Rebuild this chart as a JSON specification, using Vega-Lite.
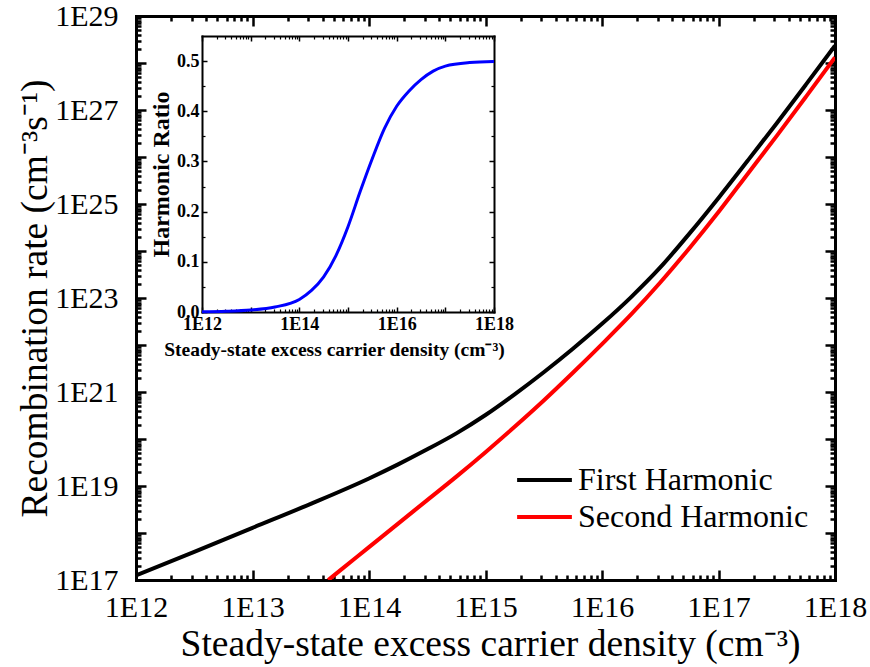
{
  "$schema": "https://vega.github.io/schema/vega-lite/v6.json",
  "width": 699,
  "height": 564,
  "autosize": {"type": "none"},
  "padding": {"left": 136, "top": 16, "right": 35, "bottom": 87},
  "background": "white",
  "config": {
    "view": {"stroke": null},
    "axis": {
      "grid": false,
      "labelFont": "Liberation Serif",
      "titleFont": "Liberation Serif",
      "labelColor": "black",
      "titleColor": "black",
      "domainColor": "black",
      "tickColor": "black",
      "labelFlush": false,
      "labelOverlap": false,
      "titleLimit": 1000,
      "labelLimit": 300,
      "domainCap": "square"
    }
  },
  "datasets": {
    "main": [
      {"series": "First Harmonic", "n": 1e12, "rate": 1.259e17},
      {"series": "First Harmonic", "n": 3.162e12, "rate": 3.981e17},
      {"series": "First Harmonic", "n": 1e13, "rate": 1.288e18},
      {"series": "First Harmonic", "n": 3.162e13, "rate": 4.169e18},
      {"series": "First Harmonic", "n": 1e14, "rate": 1.445e19},
      {"series": "First Harmonic", "n": 1.778e14, "rate": 2.884e19},
      {"series": "First Harmonic", "n": 3.162e14, "rate": 6.026e19},
      {"series": "First Harmonic", "n": 5.623e14, "rate": 1.318e20},
      {"series": "First Harmonic", "n": 1e15, "rate": 3.236e20},
      {"series": "First Harmonic", "n": 1.778e15, "rate": 8.913e20},
      {"series": "First Harmonic", "n": 3.162e15, "rate": 2.63e21},
      {"series": "First Harmonic", "n": 5.623e15, "rate": 8.318e21},
      {"series": "First Harmonic", "n": 1e16, "rate": 2.818e22},
      {"series": "First Harmonic", "n": 1.778e16, "rate": 1.047e23},
      {"series": "First Harmonic", "n": 3.162e16, "rate": 4.467e23},
      {"series": "First Harmonic", "n": 5.623e16, "rate": 2.344e24},
      {"series": "First Harmonic", "n": 1e17, "rate": 1.349e25},
      {"series": "First Harmonic", "n": 1.778e17, "rate": 8.318e25},
      {"series": "First Harmonic", "n": 3.162e17, "rate": 5.248e26},
      {"series": "First Harmonic", "n": 5.623e17, "rate": 3.467e27},
      {"series": "First Harmonic", "n": 1e18, "rate": 2.344e28},
      {"series": "Second Harmonic", "n": 4.467e13, "rate": 1.0e17},
      {"series": "Second Harmonic", "n": 5.623e13, "rate": 1.585e17},
      {"series": "Second Harmonic", "n": 1e14, "rate": 5.012e17},
      {"series": "Second Harmonic", "n": 1.778e14, "rate": 1.585e18},
      {"series": "Second Harmonic", "n": 3.162e14, "rate": 5.012e18},
      {"series": "Second Harmonic", "n": 5.623e14, "rate": 1.585e19},
      {"series": "Second Harmonic", "n": 1e15, "rate": 5.248e19},
      {"series": "Second Harmonic", "n": 1.778e15, "rate": 1.82e20},
      {"series": "Second Harmonic", "n": 3.162e15, "rate": 6.607e20},
      {"series": "Second Harmonic", "n": 5.623e15, "rate": 2.57e21},
      {"series": "Second Harmonic", "n": 1e16, "rate": 1.047e22},
      {"series": "Second Harmonic", "n": 1.778e16, "rate": 4.467e22},
      {"series": "Second Harmonic", "n": 3.162e16, "rate": 2.138e23},
      {"series": "Second Harmonic", "n": 5.623e16, "rate": 1.148e24},
      {"series": "Second Harmonic", "n": 1e17, "rate": 6.761e24},
      {"series": "Second Harmonic", "n": 1.778e17, "rate": 4.365e25},
      {"series": "Second Harmonic", "n": 3.162e17, "rate": 2.818e26},
      {"series": "Second Harmonic", "n": 5.623e17, "rate": 1.905e27},
      {"series": "Second Harmonic", "n": 1e18, "rate": 1.318e28}
    ],
    "ratio": [
      {"n": 1e12, "ratio": 0.0005},
      {"n": 3.162e12, "ratio": 0.0015},
      {"n": 1e13, "ratio": 0.004},
      {"n": 3.162e13, "ratio": 0.01},
      {"n": 1e14, "ratio": 0.025},
      {"n": 1.778e14, "ratio": 0.043},
      {"n": 3.162e14, "ratio": 0.07},
      {"n": 5.623e14, "ratio": 0.112},
      {"n": 1e15, "ratio": 0.17},
      {"n": 1.778e15, "ratio": 0.24},
      {"n": 3.162e15, "ratio": 0.306},
      {"n": 5.623e15, "ratio": 0.366},
      {"n": 1e16, "ratio": 0.41},
      {"n": 1.778e16, "ratio": 0.44},
      {"n": 3.162e16, "ratio": 0.463},
      {"n": 5.623e16, "ratio": 0.48},
      {"n": 1e17, "ratio": 0.49},
      {"n": 3.162e17, "ratio": 0.497},
      {"n": 1e18, "ratio": 0.499}
    ]
  },
  "resolve": {
    "scale": {"x": "independent", "y": "independent", "color": "independent"},
    "axis": {"x": "independent", "y": "independent"}
  },
  "layer": [
    {
      "data": {"name": "main"},
      "mark": {"type": "line", "strokeWidth": 4, "clip": true, "interpolate": "monotone"},
      "encoding": {
        "x": {"field": "n", "type": "quantitative",
          "scale": {"type": "log", "domain": [1e12, 1e18], "nice": false},
          "axis": {"orient": "bottom", "title": "Steady-state excess carrier density (cm⁻³)",
            "values": [1e12, 1e13, 1e14, 1e15, 1e16, 1e17, 1e18],
            "labelExpr": "'1E' + round(log(datum.value)/LN10)",
            "ticks": false, "tickSize": 0, "labelPadding": 12, "labelFontSize": 30,
            "titleFontSize": 37.5, "titleFontWeight": "normal", "titlePadding": 3, "titleX": 354, "domainWidth": 3}},
        "y": {"field": "rate", "type": "quantitative",
          "scale": {"type": "log", "domain": [1e17, 1e29], "nice": false},
          "axis": {"orient": "left", "title": "Recombination rate (cm⁻³s⁻¹)",
            "values": [1e17, 1e18, 1e19, 1e20, 1e21, 1e22, 1e23, 1e24, 1e25, 1e26, 1e27, 1e28, 1e29],
            "labelExpr": "round(log(datum.value)/LN10) % 2 == 1 ? '1E' + round(log(datum.value)/LN10) : ''",
            "ticks": false, "tickSize": 0, "labelPadding": 18, "labelFontSize": 30,
            "titleFontSize": 37.5, "titleFontWeight": "normal", "titlePadding": 0, "domainWidth": 3}},
        "color": {"field": "series", "type": "nominal",
          "scale": {"domain": ["First Harmonic", "Second Harmonic"], "range": ["#000000", "#ff0000"]},
          "legend": {"orient": "none", "legendX": 379, "legendY": 449, "title": null,
            "symbolType": "stroke", "symbolSize": 3000, "symbolStrokeWidth": 4,
            "labelFont": "Liberation Serif", "labelFontSize": 32, "labelColor": "black", "labelLimit": 400,
            "clipHeight": 30, "rowPadding": 5, "labelOffset": 4, "padding": 0}}
      }
    },
    {
      "data": {"name": "main"},
      "mark": {"type": "line", "opacity": 0},
      "encoding": {
        "detail": {"field": "series"},
        "x": {"field": "n", "type": "quantitative",
          "scale": {"type": "log", "domain": [1e12, 1e18], "nice": false},
          "axis": {"orient": "top", "offset": -564, "title": null, "labels": false, "domain": false,
            "values": [1e12, 1e13, 1e14, 1e15, 1e16, 1e17, 1e18],
            "tickSize": 10, "tickWidth": 2.5}},
        "y": {"field": "rate", "type": "quantitative",
          "scale": {"type": "log", "domain": [1e17, 1e29], "nice": false},
          "axis": {"orient": "right", "offset": -699, "title": null, "labels": false, "domain": false,
            "values": [1e17, 1e18, 1e19, 1e20, 1e21, 1e22, 1e23, 1e24, 1e25, 1e26, 1e27, 1e28, 1e29],
            "tickSize": 10, "tickWidth": 2.5}}
      }
    },
    {
      "data": {"name": "main"},
      "mark": {"type": "line", "opacity": 0},
      "encoding": {
        "detail": {"field": "series"},
        "x": {"field": "n", "type": "quantitative",
          "scale": {"type": "log", "domain": [1e12, 1e18], "nice": false},
          "axis": {"orient": "top", "offset": -564, "title": null, "labels": false, "domain": false,
            "values": [2e12,3e12,4e12,5e12,6e12,7e12,8e12,9e12,2e13,3e13,4e13,5e13,6e13,7e13,8e13,9e13,2e14,3e14,4e14,5e14,6e14,7e14,8e14,9e14,2e15,3e15,4e15,5e15,6e15,7e15,8e15,9e15,2e16,3e16,4e16,5e16,6e16,7e16,8e16,9e16,2e17,3e17,4e17,5e17,6e17,7e17,8e17,9e17],
            "tickSize": 5, "tickWidth": 2.5}},
        "y": {"field": "rate", "type": "quantitative",
          "scale": {"type": "log", "domain": [1e17, 1e29], "nice": false},
          "axis": {"orient": "right", "offset": -699, "title": null, "labels": false, "domain": false,
            "values": [2e17,3e17,4e17,5e17,6e17,7e17,8e17,9e17,2e18,3e18,4e18,5e18,6e18,7e18,8e18,9e18,2e19,3e19,4e19,5e19,6e19,7e19,8e19,9e19,2e20,3e20,4e20,5e20,6e20,7e20,8e20,9e20,2e21,3e21,4e21,5e21,6e21,7e21,8e21,9e21,2e22,3e22,4e22,5e22,6e22,7e22,8e22,9e22,2e23,3e23,4e23,5e23,6e23,7e23,8e23,9e23,2e24,3e24,4e24,5e24,6e24,7e24,8e24,9e24,2e25,3e25,4e25,5e25,6e25,7e25,8e25,9e25,2e26,3e26,4e26,5e26,6e26,7e26,8e26,9e26,2e27,3e27,4e27,5e27,6e27,7e27,8e27,9e27,2e28,3e28,4e28,5e28,6e28,7e28,8e28,9e28],
            "tickSize": 5, "tickWidth": 2.5}}
      }
    },
    {
      "data": {"name": "main"},
      "mark": {"type": "line", "opacity": 0},
      "encoding": {
        "detail": {"field": "series"},
        "x": {"field": "n", "type": "quantitative",
          "scale": {"type": "log", "domain": [1e12, 1e18], "nice": false},
          "axis": {"orient": "bottom", "offset": -564, "title": null, "labels": false, "domainWidth": 3,
            "values": [1e12, 1e13, 1e14, 1e15, 1e16, 1e17, 1e18],
            "tickSize": 10, "tickWidth": 2.5}},
        "y": {"field": "rate", "type": "quantitative",
          "scale": {"type": "log", "domain": [1e17, 1e29], "nice": false},
          "axis": {"orient": "left", "offset": -699, "title": null, "labels": false, "domainWidth": 3,
            "values": [1e17, 1e18, 1e19, 1e20, 1e21, 1e22, 1e23, 1e24, 1e25, 1e26, 1e27, 1e28, 1e29],
            "tickSize": 10, "tickWidth": 2.5}}
      }
    },
    {
      "data": {"name": "main"},
      "mark": {"type": "line", "opacity": 0},
      "encoding": {
        "detail": {"field": "series"},
        "x": {"field": "n", "type": "quantitative",
          "scale": {"type": "log", "domain": [1e12, 1e18], "nice": false},
          "axis": {"orient": "bottom", "offset": -564, "title": null, "labels": false, "domain": false,
            "values": [2e12,3e12,4e12,5e12,6e12,7e12,8e12,9e12,2e13,3e13,4e13,5e13,6e13,7e13,8e13,9e13,2e14,3e14,4e14,5e14,6e14,7e14,8e14,9e14,2e15,3e15,4e15,5e15,6e15,7e15,8e15,9e15,2e16,3e16,4e16,5e16,6e16,7e16,8e16,9e16,2e17,3e17,4e17,5e17,6e17,7e17,8e17,9e17],
            "tickSize": 5, "tickWidth": 2.5}},
        "y": {"field": "rate", "type": "quantitative",
          "scale": {"type": "log", "domain": [1e17, 1e29], "nice": false},
          "axis": {"orient": "left", "offset": -699, "title": null, "labels": false, "domain": false,
            "values": [2e17,3e17,4e17,5e17,6e17,7e17,8e17,9e17,2e18,3e18,4e18,5e18,6e18,7e18,8e18,9e18,2e19,3e19,4e19,5e19,6e19,7e19,8e19,9e19,2e20,3e20,4e20,5e20,6e20,7e20,8e20,9e20,2e21,3e21,4e21,5e21,6e21,7e21,8e21,9e21,2e22,3e22,4e22,5e22,6e22,7e22,8e22,9e22,2e23,3e23,4e23,5e23,6e23,7e23,8e23,9e23,2e24,3e24,4e24,5e24,6e24,7e24,8e24,9e24,2e25,3e25,4e25,5e25,6e25,7e25,8e25,9e25,2e26,3e26,4e26,5e26,6e26,7e26,8e26,9e26,2e27,3e27,4e27,5e27,6e27,7e27,8e27,9e27,2e28,3e28,4e28,5e28,6e28,7e28,8e28,9e28],
            "tickSize": 5, "tickWidth": 2.5}}
      }
    },
    {
      "data": {"name": "ratio"},
      "mark": {"type": "line", "strokeWidth": 3, "color": "#0000ff", "interpolate": "monotone"},
      "encoding": {
        "x": {"field": "n", "type": "quantitative",
          "scale": {"type": "log", "domain": [1e12, 1e18], "nice": false, "range": [66, 358]},
          "axis": {"orient": "bottom", "offset": -268, "title": "Steady-state excess carrier density (cm⁻³)",
            "values": [1e12, 1e13, 1e14, 1e15, 1e16, 1e17, 1e18],
            "labelExpr": "round(log(datum.value)/LN10) % 2 == 0 ? '1E' + round(log(datum.value)/LN10) : ''",
            "ticks": false, "tickSize": 0, "labelPadding": 3, "labelFontSize": 18, "labelFontWeight": "bold",
            "titleFontSize": 19.5, "titleFontWeight": "bold", "titlePadding": 7, "titleX": 198, "domainWidth": 2}},
        "y": {"field": "ratio", "type": "quantitative",
          "scale": {"type": "linear", "domain": [0, 0.55], "nice": false, "zero": false, "range": [296, 20]},
          "axis": {"orient": "left", "offset": -66, "title": "Harmonic Ratio",
            "values": [0, 0.1, 0.2, 0.3, 0.4, 0.5], "format": ".1f",
            "ticks": false, "tickSize": 0, "labelPadding": 3, "labelFontSize": 18, "labelFontWeight": "bold",
            "titleFontSize": 24, "titleFontWeight": "bold", "titlePadding": 3, "domainWidth": 2}}
      }
    },
    {
      "data": {"name": "ratio"},
      "mark": {"type": "line", "opacity": 0},
      "encoding": {
        "x": {"field": "n", "type": "quantitative",
          "scale": {"type": "log", "domain": [1e12, 1e18], "nice": false, "range": [66, 358]},
          "axis": {"orient": "top", "offset": -296, "title": null, "labels": false, "domain": false,
            "values": [1e12, 1e13, 1e14, 1e15, 1e16, 1e17, 1e18],
            "tickSize": 5, "tickWidth": 1.5}},
        "y": {"field": "ratio", "type": "quantitative",
          "scale": {"type": "linear", "domain": [0, 0.55], "nice": false, "zero": false, "range": [296, 20]},
          "axis": {"orient": "right", "offset": -633, "title": null, "labels": false, "domain": false,
            "values": [0, 0.1, 0.2, 0.3, 0.4, 0.5],
            "tickSize": 5, "tickWidth": 1.5}}
      }
    },
    {
      "data": {"name": "ratio"},
      "mark": {"type": "line", "opacity": 0},
      "encoding": {
        "x": {"field": "n", "type": "quantitative",
          "scale": {"type": "log", "domain": [1e12, 1e18], "nice": false, "range": [66, 358]},
          "axis": {"orient": "top", "offset": -296, "title": null, "labels": false, "domain": false,
            "values": [2e12,3e12,4e12,5e12,6e12,7e12,8e12,9e12,2e13,3e13,4e13,5e13,6e13,7e13,8e13,9e13,2e14,3e14,4e14,5e14,6e14,7e14,8e14,9e14,2e15,3e15,4e15,5e15,6e15,7e15,8e15,9e15,2e16,3e16,4e16,5e16,6e16,7e16,8e16,9e16,2e17,3e17,4e17,5e17,6e17,7e17,8e17,9e17],
            "tickSize": 3, "tickWidth": 1.2}},
        "y": {"field": "ratio", "type": "quantitative",
          "scale": {"type": "linear", "domain": [0, 0.55], "nice": false, "zero": false, "range": [296, 20]},
          "axis": {"orient": "right", "offset": -633, "title": null, "labels": false, "domain": false,
            "values": [0.05, 0.15, 0.25, 0.35, 0.45],
            "tickSize": 3, "tickWidth": 1.2}}
      }
    },
    {
      "data": {"name": "ratio"},
      "mark": {"type": "line", "opacity": 0},
      "encoding": {
        "x": {"field": "n", "type": "quantitative",
          "scale": {"type": "log", "domain": [1e12, 1e18], "nice": false, "range": [66, 358]},
          "axis": {"orient": "bottom", "offset": -544, "title": null, "labels": false, "domainWidth": 2,
            "values": [1e12, 1e13, 1e14, 1e15, 1e16, 1e17, 1e18],
            "tickSize": 5, "tickWidth": 1.5}},
        "y": {"field": "ratio", "type": "quantitative",
          "scale": {"type": "linear", "domain": [0, 0.55], "nice": false, "zero": false, "range": [296, 20]},
          "axis": {"orient": "left", "offset": -358, "title": null, "labels": false, "domainWidth": 2,
            "values": [0, 0.1, 0.2, 0.3, 0.4, 0.5],
            "tickSize": 5, "tickWidth": 1.5}}
      }
    },
    {
      "data": {"name": "ratio"},
      "mark": {"type": "line", "opacity": 0},
      "encoding": {
        "x": {"field": "n", "type": "quantitative",
          "scale": {"type": "log", "domain": [1e12, 1e18], "nice": false, "range": [66, 358]},
          "axis": {"orient": "bottom", "offset": -544, "title": null, "labels": false, "domain": false,
            "values": [2e12,3e12,4e12,5e12,6e12,7e12,8e12,9e12,2e13,3e13,4e13,5e13,6e13,7e13,8e13,9e13,2e14,3e14,4e14,5e14,6e14,7e14,8e14,9e14,2e15,3e15,4e15,5e15,6e15,7e15,8e15,9e15,2e16,3e16,4e16,5e16,6e16,7e16,8e16,9e16,2e17,3e17,4e17,5e17,6e17,7e17,8e17,9e17],
            "tickSize": 3, "tickWidth": 1.2}},
        "y": {"field": "ratio", "type": "quantitative",
          "scale": {"type": "linear", "domain": [0, 0.55], "nice": false, "zero": false, "range": [296, 20]},
          "axis": {"orient": "left", "offset": -358, "title": null, "labels": false, "domain": false,
            "values": [0.05, 0.15, 0.25, 0.35, 0.45],
            "tickSize": 3, "tickWidth": 1.2}}
      }
    }
  ]
}
